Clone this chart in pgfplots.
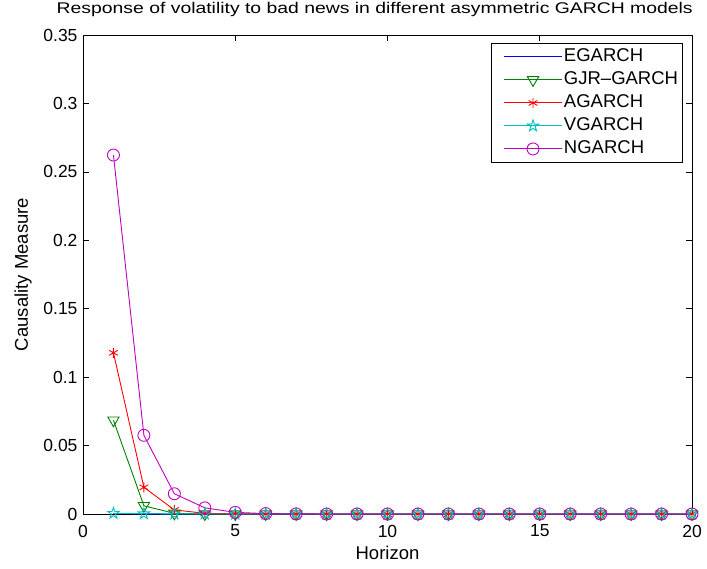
\documentclass[border=0pt]{standalone}
\usepackage{fontspec}
\setmainfont{Liberation Sans}
\usepackage{pgfplots}
\pgfplotsset{compat=1.18}
\usetikzlibrary{plotmarks}
\pgfdeclareplotmark{pentagram}{%
  \pgfpathmoveto{\pgfpointpolar{90}{\pgfplotmarksize}}%
  \pgfpathlineto{\pgfpointpolar{126}{0.382\pgfplotmarksize}}%
  \pgfpathlineto{\pgfpointpolar{162}{\pgfplotmarksize}}%
  \pgfpathlineto{\pgfpointpolar{198}{0.382\pgfplotmarksize}}%
  \pgfpathlineto{\pgfpointpolar{234}{\pgfplotmarksize}}%
  \pgfpathlineto{\pgfpointpolar{270}{0.382\pgfplotmarksize}}%
  \pgfpathlineto{\pgfpointpolar{306}{\pgfplotmarksize}}%
  \pgfpathlineto{\pgfpointpolar{342}{0.382\pgfplotmarksize}}%
  \pgfpathlineto{\pgfpointpolar{18}{\pgfplotmarksize}}%
  \pgfpathlineto{\pgfpointpolar{54}{0.382\pgfplotmarksize}}%
  \pgfpathclose\pgfusepathqstroke}
\definecolor{mgreen}{rgb}{0,0.5,0}
\definecolor{mcyan}{rgb}{0,0.75,0.75}
\definecolor{mmag}{rgb}{0.75,0,0.75}
\newcommand{\tickfont}{\fontsize{17.5}{19}\selectfont}
\begin{document}
\begin{tikzpicture}
\useasboundingbox (-83pt,-54pt) rectangle (624pt,514pt);
\begin{axis}[
  at={(0,0)}, anchor=south west,
  width=609pt, height=479pt, scale only axis,
  xmin=0, xmax=20, ymin=0, ymax=0.35,
  xtick={0,5,10,15,20},
  ytick={0,0.05,0.1,0.15,0.2,0.25,0.3,0.35},
  xticklabels={0,5,10,15,20},
  yticklabels={0,0.05,0.1,0.15,0.2,0.25,0.3,0.35},
  xticklabel style={font=\tickfont, anchor=center, yshift=-17pt},
  yticklabel style={font=\tickfont, anchor=east, xshift=-2pt},
  tick align=inside,
  major tick length=6pt,
  tick style={black, line width=0.6pt},
  axis line style={line width=0.6pt},
  label style={font=\fontsize{18.5}{20}\selectfont},
  xlabel={Horizon},
  ylabel={Causality Measure},
  xlabel style={at={(axis description cs:0.5,0)}, anchor=center, yshift=-39pt},
  ylabel style={at={(axis description cs:0,0.5)}, anchor=center, yshift=60pt},
  title={Response of volatility to bad news in different asymmetric GARCH models},
  title style={font=\fontsize{15.5}{17}\selectfont\addfontfeatures{FakeStretch=1.25}, at={(axis description cs:0.479,1)}, anchor=center, yshift=20pt},
  legend style={at={(0.985,0.983)}, anchor=north east, line width=0.6pt,
    font=\fontsize{18.5}{20}\selectfont, row sep=4pt, inner xsep=3pt, inner ysep=4pt,
    nodes={inner sep=1.5pt, text height=13pt, text depth=3pt}},
  legend cell align=left,
  legend image code/.code={%
    \path (0pt,0pt);
    \draw[mark repeat=2,mark phase=2,#1] plot coordinates {(9pt,0pt) (38pt,0pt) (67pt,0pt)};},
  every axis plot/.append style={line width=0.9pt},
]
\addplot[draw=blue, color=blue, no markers] coordinates {
(1,0.0003)(2,0.0001)(3,0)(4,0)(5,0)(6,0)(7,0)(8,0)(9,0)(10,0)
(11,0)(12,0)(13,0)(14,0)(15,0)(16,0)(17,0)(18,0)(19,0)(20,0)};
\addlegendentry{EGARCH}
\addplot[color=mgreen, mark=triangle, mark size=6.5pt, mark options={rotate=180, solid}] coordinates {
(1,0.0685)(2,0.0060)(3,0.0005)(4,0)(5,0)(6,0)(7,0)(8,0)(9,0)(10,0)
(11,0)(12,0)(13,0)(14,0)(15,0)(16,0)(17,0)(18,0)(19,0)(20,0)};
\addlegendentry{GJR--GARCH}
\addplot[color=red, mark=asterisk, mark size=5pt] coordinates {
(1,0.1178)(2,0.0195)(3,0.0030)(4,0.0005)(5,0.0001)(6,0)(7,0)(8,0)(9,0)(10,0)
(11,0)(12,0)(13,0)(14,0)(15,0)(16,0)(17,0)(18,0)(19,0)(20,0)};
\addlegendentry{AGARCH}
\addplot[color=mcyan, mark=pentagram, mark size=6pt] coordinates {
(1,0.0005)(2,0.0002)(3,0.0001)(4,0)(5,0)(6,0)(7,0)(8,0)(9,0)(10,0)
(11,0)(12,0)(13,0)(14,0)(15,0)(16,0)(17,0)(18,0)(19,0)(20,0)};
\addlegendentry{VGARCH}
\addplot[color=mmag, mark=o, mark size=6pt] coordinates {
(1,0.2623)(2,0.0575)(3,0.0148)(4,0.0045)(5,0.0012)(6,0.0003)(7,0.0001)(8,0)(9,0)(10,0)
(11,0)(12,0)(13,0)(14,0)(15,0)(16,0)(17,0)(18,0)(19,0)(20,0)};
\addlegendentry{NGARCH}
\end{axis}
\end{tikzpicture}
\end{document}
